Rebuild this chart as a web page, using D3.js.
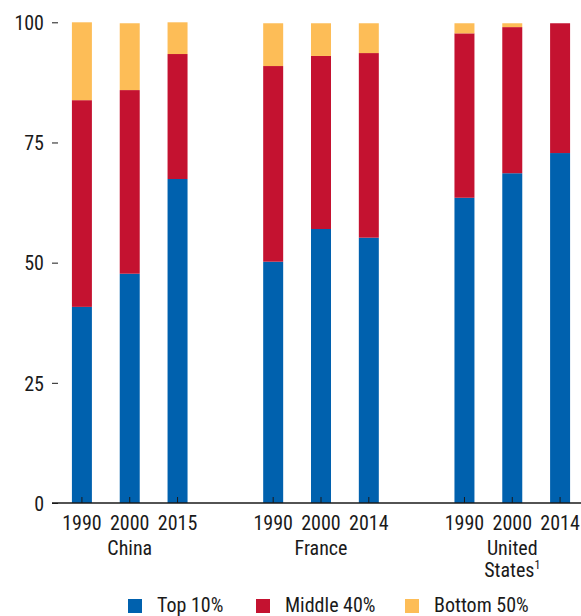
<!DOCTYPE html>
<html>
<head>
<meta charset="utf-8">
<script src="https://cdn.jsdelivr.net/npm/d3@7"></script>
<style>
  html, body { margin: 0; padding: 0; background: #fff; }
  svg { display: block; }
  text { font-family: "Liberation Sans Narrow", "Arial Narrow", "Roboto Condensed", sans-serif; fill: #1a1a1a; }
</style>
</head>
<body>
<svg id="chart" width="581" height="616"></svg>
<script>
// ---- data ----
const countries = ["China", "France", "United States"];
const years = [["1990", "2000", "2015"], ["1990", "2000", "2014"], ["1990", "2000", "2014"]];
const seriesNames = ["Top 10%", "Middle 40%", "Bottom 50%"];
const top10    = [40.8, 47.7, 67.4, 50.2, 57.0, 55.2, 63.5, 68.6, 72.8];
const middle40 = [43.0, 38.2, 26.0, 40.7, 36.0, 38.4, 34.2, 30.4, 27.0];
const bottom50 = [16.2, 13.9,  6.6,  8.9,  6.8,  6.2,  2.1,  0.8,  0.0];
const yTicks = [0, 25, 50, 75, 100];
const colors = ["#0061ae", "#c41230", "#fdbd57"];

// ---- build table ----
const rows = [];
let k = 0;
countries.forEach((c, ci) => {
  years[ci].forEach((yr, yi) => {
    rows.push({ key: c + "-" + yr, slot: ci * 4 + yi, year: yr, country: ci,
      "Top 10%": top10[k], "Middle 40%": middle40[k], "Bottom 50%": bottom50[k] });
    k++;
  });
});

const svg = d3.select("#chart");
const slots = d3.range(11);
const x = d3.scaleBand().domain(slots).range([58, 584]).paddingInner(0.582).paddingOuter(0.291);
const y = d3.scaleLinear().domain([0, 100]).range([503, 22.3]);

const stack = d3.stack().keys(seriesNames);
const stacked = stack(rows);

svg.append("g").selectAll("g").data(stacked).join("g")
  .attr("fill", (d, i) => colors[i])
  .selectAll("rect").data(d => d.map(v => Object.assign(v, { slot: v.data.slot }))).join("rect")
  .attr("x", d => x(d.slot))
  .attr("width", x.bandwidth())
  .attr("y", d => y(d[1]))
  .attr("height", d => Math.max(0, y(d[0]) - y(d[1])));

// y axis
const yAxis = d3.axisLeft(y).tickValues(yTicks).tickSize(6).tickPadding(8);
const yg = svg.append("g").attr("transform", "translate(58,0)").call(yAxis);
yg.select(".domain").remove();
yg.selectAll("line").attr("stroke", "#1a1a1a");
yg.selectAll("text").attr("font-size", 20).attr("font-family", "'Liberation Sans Narrow', 'Arial Narrow', sans-serif").attr("fill", "#1a1a1a").attr("dy", "0.36em");

// x baseline
svg.append("line").attr("x1", 52).attr("x2", 581).attr("y1", y(0)).attr("y2", y(0))
  .attr("stroke", "#1a1a1a").attr("stroke-width", 1.3);

// x ticks (pointing up) and year labels
const xg = svg.append("g");
rows.forEach(r => {
  const cx = x(r.slot) + x.bandwidth() / 2;
  xg.append("line").attr("x1", cx).attr("x2", cx).attr("y1", y(0)).attr("y2", y(0) - 6)
    .attr("stroke", "#1a1a1a").attr("stroke-width", 1);
  xg.append("text").attr("x", cx).attr("y", 530).attr("text-anchor", "middle")
    .attr("font-size", 20).text(r.year);
});

// country labels
countries.forEach((c, ci) => {
  const cx = x(ci * 4 + 1) + x.bandwidth() / 2;
  if (c === "United States") {
    svg.append("text").attr("x", cx).attr("y", 555).attr("text-anchor", "middle").attr("font-size", 20).text("United");
    const t = svg.append("text").attr("x", cx).attr("y", 577).attr("text-anchor", "middle").attr("font-size", 20);
    t.append("tspan").text("States");
    t.append("tspan").attr("font-size", 12).attr("dy", -8).text("1");
  } else {
    svg.append("text").attr("x", cx).attr("y", 555).attr("text-anchor", "middle").attr("font-size", 20).text(c);
  }
});

// legend
const legendX = [128, 256, 405];
const lg = svg.append("g");
seriesNames.forEach((s, i) => {
  lg.append("rect").attr("x", legendX[i]).attr("y", 599).attr("width", 14).attr("height", 14).attr("fill", colors[i]);
  lg.append("text").attr("x", legendX[i] + 29).attr("y", 612).attr("font-size", 20).text(s);
});
</script>
</body>
</html>
